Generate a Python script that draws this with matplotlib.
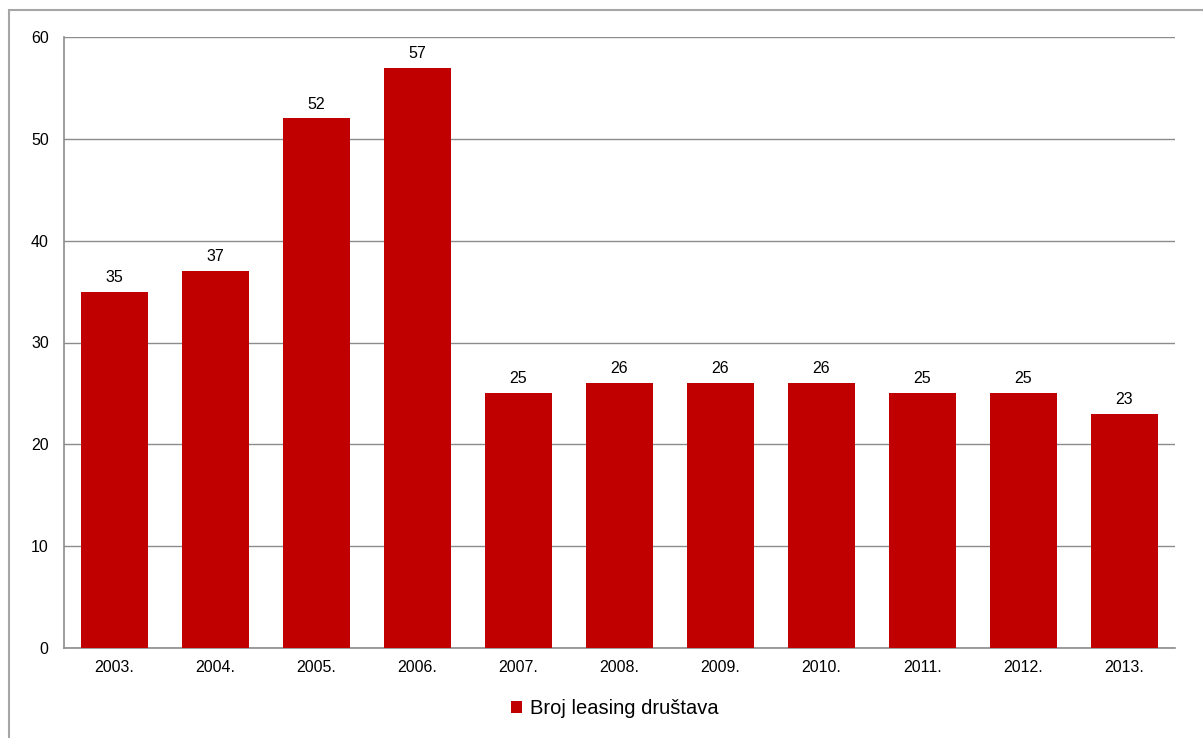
import matplotlib.pyplot as plt
from matplotlib.patches import Rectangle

plt.rcParams['font.family'] = ['Liberation Sans', 'DejaVu Sans']

years = ["2003.", "2004.", "2005.", "2006.", "2007.", "2008.",
         "2009.", "2010.", "2011.", "2012.", "2013."]
counts = [35, 37, 52, 57, 25, 26, 26, 26, 25, 25, 23]
series_name = "Broj leasing društava"

W, H = 1203, 738
fig = plt.figure(figsize=(W / 100, H / 100), dpi=100)
ax = fig.add_axes([64 / W, 1 - 648 / H, (1175 - 64) / W, (648 - 37) / H])

x = range(len(years))
bars = ax.bar(x, counts, width=0.66, color="#C00000", label=series_name, zorder=3)
for xi, v in zip(x, counts):
    ax.annotate(str(v), (xi, v), xytext=(0, 5), textcoords="offset points",
                ha="center", va="bottom", fontsize=11.5)

ax.set_xlim(-0.5, len(years) - 0.5)
ax.set_ylim(0, 60)
ax.set_yticks(range(0, 61, 10))
ax.set_xticks(list(x))
ax.set_xticklabels(years)
ax.tick_params(length=0, labelsize=11.5, pad=9)
ax.tick_params(axis="y", pad=11)
ax.yaxis.grid(True, color="#8c8c8c", linewidth=1)
ax.set_axisbelow(True)
for s in ["top", "right"]:
    ax.spines[s].set_visible(False)
for s in ["left", "bottom"]:
    ax.spines[s].set_color("#8c8c8c")
    ax.spines[s].set_linewidth(1.2)

fig.legend(handles=[bars], labels=[series_name], loc="center",
           bbox_to_anchor=(0.511, 1 - 709 / H), frameon=False, fontsize=14.5,
           handlelength=0.55, handleheight=0.55, handletextpad=0.4)

fig.patches.append(Rectangle((9 / W, -0.1), 1.2, 1 - 10 / H + 0.1,
                             transform=fig.transFigure, fill=False,
                             edgecolor="#a6a6a6", linewidth=1.5))

fig.savefig("out.png", dpi=100)
